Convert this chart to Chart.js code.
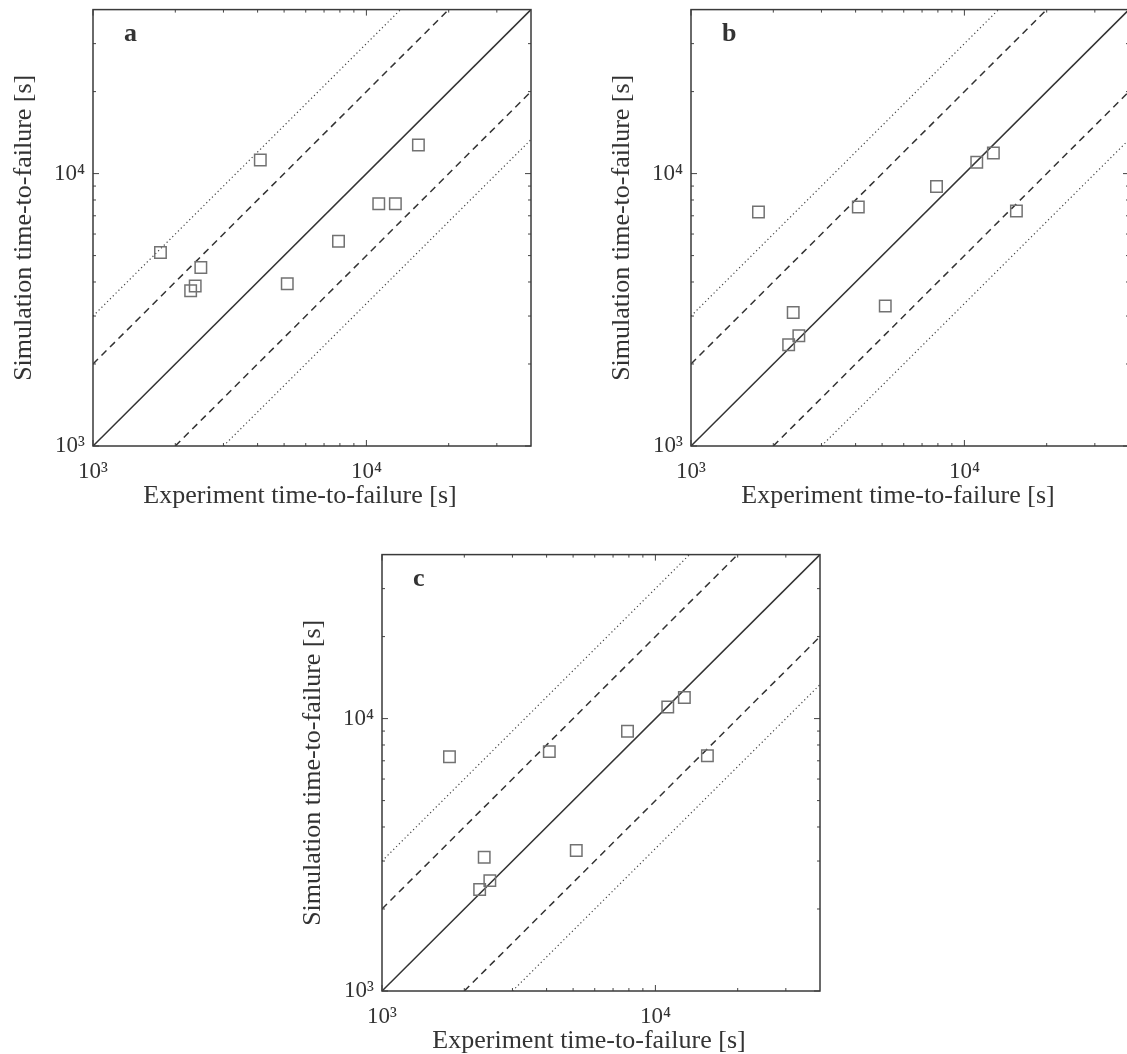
<!DOCTYPE html>
<html>
<head>
<meta charset="utf-8">
<title>Simulation vs experiment time-to-failure</title>
<script src="https://cdn.jsdelivr.net/npm/chart.js@4.4.1/dist/chart.umd.min.js"></script>
<style>
  html, body { margin: 0; padding: 0; background: #fff; overflow: hidden; }
  body { width: 1127px; height: 1054px; position: relative; }
  .panel { position: absolute; width: 560px; height: 520px; }
</style>
</head>
<body>
<div class="panel" style="left:0;top:0"><canvas id="chartA"></canvas></div>
<div class="panel" style="left:598px;top:0"><canvas id="chartB"></canvas></div>
<div class="panel" style="left:289px;top:545px"><canvas id="chartC"></canvas></div>
<script>
// experiment time-to-failure [s], same tests in every panel
const experimentTime = [1765, 2276, 2365, 2480, 4092, 5135, 7906, 11097, 12763, 15496];
// simulated time-to-failure [s] per panel
const simulationA = [5130, 3717, 3866, 4523, 11224, 3942, 5646, 7750, 7750, 12730];
const simulationB = [7225, 2353, 3089, 2538, 7537, 3267, 8968, 11005, 11903, 7287];
const simulationC = [7245, 2360, 3097, 2542, 7563, 3280, 8980, 11033, 11952, 7307];

const panelLetters = ['a', 'b', 'c'];
const xTitle = 'Experiment time-to-failure [s]';
const yTitle = 'Simulation time-to-failure [s]';
const axisMin = 1000;
const axisMax = 40000;
const tickValues = [1000, 10000];
const tickLabels = ['10³', '10⁴'];
const minorTicks = [2000, 3000, 4000, 5000, 6000, 7000, 8000, 9000, 20000, 30000];
// reference lines y = k * x
const lineFactors = [1, 2, 0.5, 3, 1 / 3];

const textColor = '#333';
const serif = '"Liberation Serif", "Times New Roman", serif';

function factorLine(k) {
  const x0 = Math.max(axisMin, axisMin / k);
  const x1 = Math.min(axisMax, axisMax / k);
  return [{ x: x0, y: k * x0 }, { x: x1, y: k * x1 }];
}

function lineStyle(k) {
  if (k === 1) return { borderColor: '#333', borderWidth: 1.5, borderDash: [] };
  if (k === 2 || k === 0.5) return { borderColor: '#333', borderWidth: 1.5, borderDash: [7, 5] };
  return { borderColor: '#444', borderWidth: 1.2, borderDash: [1.2, 2.8] };
}

// box, inward ticks on all four sides, panel letter and axis titles
const framePlugin = {
  id: 'frame',
  afterDatasetsDraw(chart, args, opts) {
    const { ctx, chartArea: a, scales: { x, y } } = chart;
    ctx.save();
    ctx.strokeStyle = '#444';
    ctx.lineWidth = 1;
    const drawTicks = (values, len) => {
      values.forEach(v => {
        const px = x.getPixelForValue(v);
        const py = y.getPixelForValue(v);
        ctx.beginPath();
        ctx.moveTo(px, a.bottom); ctx.lineTo(px, a.bottom - len);
        ctx.moveTo(px, a.top); ctx.lineTo(px, a.top + len);
        ctx.moveTo(a.left, py); ctx.lineTo(a.left + len, py);
        ctx.moveTo(a.right, py); ctx.lineTo(a.right - len, py);
        ctx.stroke();
      });
    };
    drawTicks(minorTicks, 3);
    drawTicks(tickValues, 6);
    ctx.lineWidth = 1.5;
    ctx.strokeStyle = '#3a3a3a';
    ctx.strokeRect(a.left, a.top, a.right - a.left, a.bottom - a.top);

    ctx.fillStyle = textColor;
    ctx.textBaseline = 'alphabetic';
    ctx.font = 'bold 26px ' + serif;
    ctx.textAlign = 'left';
    ctx.fillText(opts.letter, a.left + 31, a.top + 31);

    ctx.font = '26px ' + serif;
    ctx.textAlign = 'center';
    ctx.fillText(xTitle, (a.left + a.right) / 2 - 12, a.bottom + 57);
    ctx.translate(a.left - 62, (a.top + a.bottom) / 2);
    ctx.rotate(-Math.PI / 2);
    ctx.fillText(yTitle, 0, 0);
    ctx.restore();
  }
};

function makeChart(canvasId, simulation, letter) {
  const datasets = [{
    label: 'tests',
    data: experimentTime.map((t, i) => ({ x: t, y: simulation[i] })),
    pointStyle: 'rect',
    pointRadius: 8.1,
    pointBorderWidth: 1.5,
    pointBorderColor: '#727272',
    pointBackgroundColor: 'rgba(0,0,0,0)',
    showLine: false
  }];
  lineFactors.forEach(k => {
    datasets.push(Object.assign({
      label: 'y = ' + k.toFixed(2) + 'x',
      data: factorLine(k),
      showLine: true,
      pointRadius: 0,
      fill: false
    }, lineStyle(k)));
  });

  const axis = (position) => ({
    type: 'logarithmic',
    position: position,
    min: axisMin,
    max: axisMax,
    grid: { display: false, drawTicks: false },
    border: { display: false },
    afterBuildTicks: s => { s.ticks = tickValues.map(v => ({ value: v })); },
    ticks: {
      autoSkip: false,
      maxRotation: 0,
      padding: position === 'bottom' ? 12 : 8,
      color: textColor,
      font: { family: serif, size: 23 },
      callback: v => tickLabels[tickValues.indexOf(v)]
    },
    afterFit: s => {
      if (position === 'bottom') s.height = 74; else s.width = 93;
      // labels sit inside the reserved margins, no extra chart-area padding
      s.paddingTop = 0; s.paddingBottom = 0;
      s.paddingLeft = 0; s.paddingRight = 0;
    }
  });

  return new Chart(document.getElementById(canvasId), {
    type: 'scatter',
    data: { datasets },
    options: {
      responsive: true,
      maintainAspectRatio: false,
      animation: false,
      layout: { padding: { top: 9, right: 29, left: 0, bottom: 0 } },
      plugins: {
        legend: { display: false },
        tooltip: { enabled: false },
        frame: { letter: letter }
      },
      scales: {
        x: axis('bottom'),
        y: axis('left')
      }
    },
    plugins: [framePlugin]
  });
}

makeChart('chartA', simulationA, panelLetters[0]);
makeChart('chartB', simulationB, panelLetters[1]);
makeChart('chartC', simulationC, panelLetters[2]);
</script>
</body>
</html>
